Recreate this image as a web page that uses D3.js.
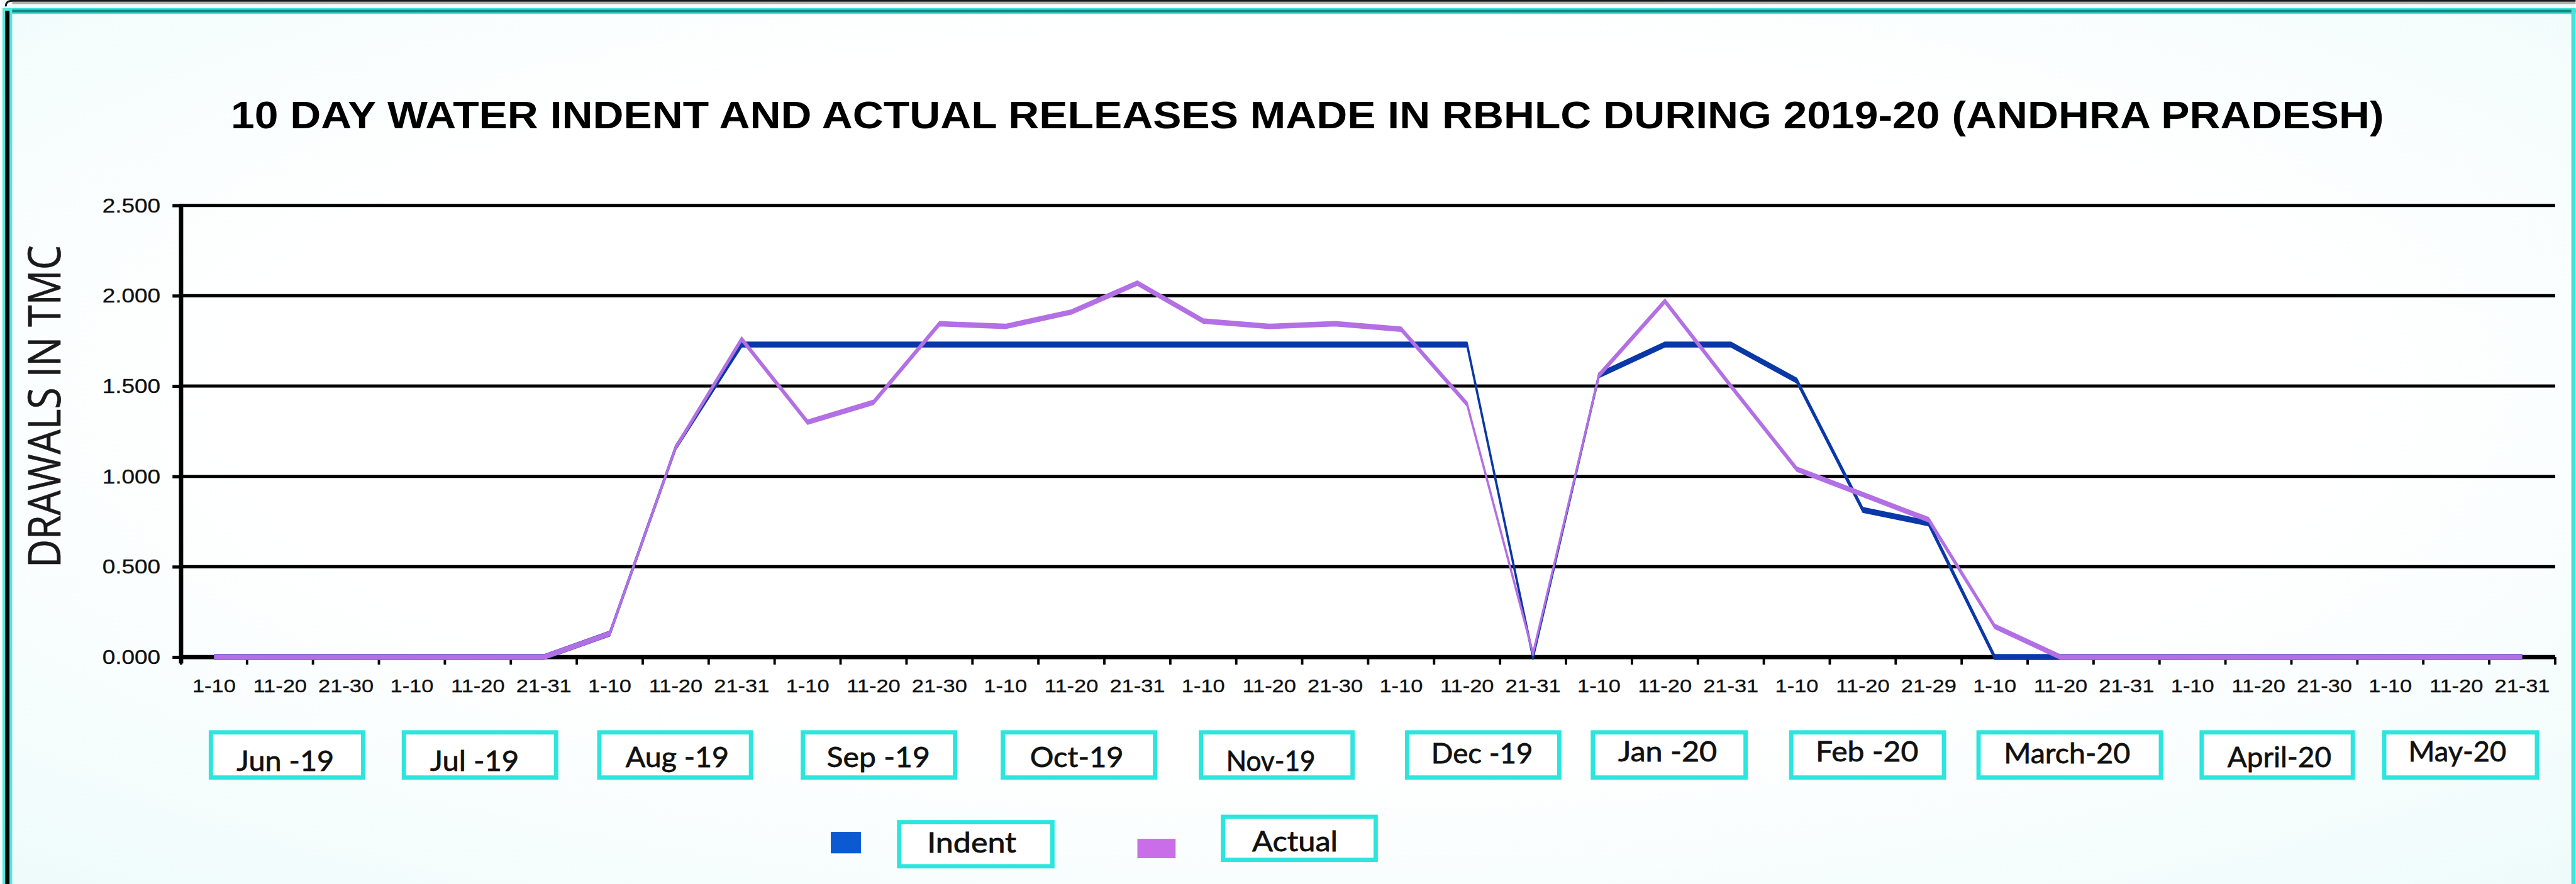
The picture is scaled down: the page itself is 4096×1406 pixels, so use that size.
<!DOCTYPE html>
<html>
<head>
<meta charset="utf-8">
<title>10 Day Water Indent and Actual Releases - RBHLC 2019-20</title>
<script src="https://cdn.jsdelivr.net/npm/d3@7"></script>
<style>
  html, body { margin: 0; padding: 0; background: #ffffff; overflow: hidden; }
  svg { display: block; }
</style>
</head>
<body>
<script>
// ---------------- data ----------------
const months = ["Jun -19", "Jul -19", "Aug -19", "Sep -19", "Oct-19", "Nov-19",
                "Dec -19", "Jan -20", "Feb -20", "March-20", "April-20", "May-20"];

const periods = [
  "1-10", "11-20", "21-30",   // Jun
  "1-10", "11-20", "21-31",   // Jul
  "1-10", "11-20", "21-31",   // Aug
  "1-10", "11-20", "21-30",   // Sep
  "1-10", "11-20", "21-31",   // Oct
  "1-10", "11-20", "21-30",   // Nov
  "1-10", "11-20", "21-31",   // Dec
  "1-10", "11-20", "21-31",   // Jan
  "1-10", "11-20", "21-29",   // Feb
  "1-10", "11-20", "21-31",   // Mar
  "1-10", "11-20", "21-30",   // Apr
  "1-10", "11-20", "21-31"    // May
];

// drawals in TMC per 10-day period
const indent = [
  0, 0, 0,
  0, 0, 0,
  0.13, 1.16, 1.73,
  1.73, 1.73, 1.73,
  1.73, 1.73, 1.73,
  1.73, 1.73, 1.73,
  1.73, 1.73, 0,
  1.56, 1.73, 1.73,
  1.53, 0.815, 0.74,
  0, 0, 0,
  0, 0, 0,
  0, 0, 0
];

const actual = [
  0, 0, 0,
  0, 0, 0,
  0.13, 1.16, 1.76,
  1.30, 1.41, 1.845,
  1.83, 1.91, 2.07,
  1.86, 1.83, 1.845,
  1.815, 1.40, 0.02,
  1.56, 1.97, 1.50,
  1.04, 0.90, 0.76,
  0.17, 0, 0,
  0, 0, 0,
  0, 0, 0
];

const yTicks = [0, 0.5, 1.0, 1.5, 2.0, 2.5];
const seriesNames = ["Indent", "Actual"];

// ---------------- layout ----------------
const W = 4788, H = 1644;
const plot = { left: 336, right: 4750, top: 382, bottom: 1222 };

const colors = {
  indentLine: "#0a38a8", actualLine: "#b36fe4",
  indentKey: "#0b5ad2", actualKey: "#c96de9",
  box: "#2ae6dc", frameTeal: "#14897f"
};

// month label boxes: offset of each box from its month's centre, box width,
// label baseline, label width and label offset inside the box
const boxNudge   = [13, 4, -1, 10, 14, 14, 30, 8, 9, 17, 35, 8];
const boxWidth   = [291, 291, 290, 291, 291, 290, 291, 292, 292, 347, 289, 292];
const labelBase  = [1433, 1433, 1426, 1426, 1426, 1433, 1419, 1416, 1416, 1420, 1426, 1416];
const labelLen   = [181, 165, 192, 192, 174, 166, 189, 184, 191, 235, 193, 182];
const labelNudge = [-3, -10, 4, -1, -4, -11, -2, -3, -1, -5, 4, -6];

const svg = d3.select("body").append("svg")
  .attr("width", 4096).attr("height", 1406)
  .attr("viewBox", `0 0 ${W} ${H}`);

// soft tinted backdrop
const defs = svg.append("defs");
const bg = defs.append("radialGradient").attr("id", "bgGrad")
  .attr("cx", "50%").attr("cy", "45%").attr("r", "75%");
bg.append("stop").attr("offset", "0.55").attr("stop-color", "#ffffff");
bg.append("stop").attr("offset", "1").attr("stop-color", "#eefbfb");
svg.append("rect").attr("x", 0).attr("y", 0).attr("width", W).attr("height", H)
  .attr("fill", "url(#bgGrad)");

// ---------------- scales ----------------
const x = d3.scaleBand().domain(d3.range(periods.length))
  .range([plot.left, plot.right]).paddingInner(0).paddingOuter(0);
const y = d3.scaleLinear().domain([0, 2.5]).range([plot.bottom, plot.top]);

// ---------------- title ----------------
svg.append("text")
  .attr("x", 2430).attr("y", 238)
  .attr("text-anchor", "middle")
  .attr("font-family", "'Liberation Sans', Arial, sans-serif")
  .attr("font-weight", "bold")
  .attr("font-size", 71)
  .attr("textLength", 4003).attr("lengthAdjust", "spacingAndGlyphs")
  .attr("fill", "#000")
  .text("10 DAY WATER INDENT AND ACTUAL RELEASES MADE IN RBHLC DURING 2019-20 (ANDHRA PRADESH)");

// ---------------- y axis title ----------------
svg.append("text")
  .attr("transform", "translate(111,756) rotate(-90)")
  .attr("text-anchor", "middle")
  .attr("font-family", "'Open Sans', 'Noto Sans', sans-serif")
  .attr("font-size", 84)
  .attr("textLength", 600).attr("lengthAdjust", "spacingAndGlyphs")
  .attr("fill", "#1a1a1a")
  .attr("stroke", "#1a1a1a").attr("stroke-width", 0.8)
  .text("DRAWALS IN TMC");

// ---------------- gridlines ----------------
svg.append("g").selectAll("line").data(yTicks.filter(d => d > 0)).join("line")
  .attr("x1", plot.left).attr("x2", plot.right)
  .attr("y1", d => y(d)).attr("y2", d => y(d))
  .attr("stroke", "#000").attr("stroke-width", 6);

// ---------------- y axis ----------------
const yAxis = svg.append("g")
  .attr("transform", `translate(${plot.left},0)`)
  .call(d3.axisLeft(y).tickValues(yTicks).tickFormat(d3.format(".3f")).tickSize(16));
yAxis.select(".domain").remove();
yAxis.selectAll(".tick line").attr("stroke", "#000").attr("stroke-width", 6);
yAxis.selectAll(".tick text")
  .attr("x", -32)
  .attr("dy", "0.34em")
  .attr("transform", "scale(1.2,1)")
  .attr("font-family", "'Liberation Sans', Arial, sans-serif")
  .attr("font-size", 36)
  .attr("fill", "#111")
  .attr("stroke", "#111").attr("stroke-width", 0.4);

svg.append("line")
  .attr("x1", plot.left).attr("x2", plot.left)
  .attr("y1", plot.top - 3).attr("y2", plot.bottom + 12)
  .attr("stroke", "#000").attr("stroke-width", 8);

// ---------------- x axis ----------------
svg.append("line")
  .attr("x1", plot.left).attr("x2", plot.right)
  .attr("y1", plot.bottom).attr("y2", plot.bottom)
  .attr("stroke", "#000").attr("stroke-width", 8);

// tick marks sit on the period boundaries
svg.append("g").selectAll("line")
  .data(d3.range(periods.length + 1)).join("line")
  .attr("x1", i => plot.left + i * x.step())
  .attr("x2", i => plot.left + i * x.step())
  .attr("y1", plot.bottom).attr("y2", plot.bottom + 14)
  .attr("stroke", "#000").attr("stroke-width", 4.5);

const xAxis = svg.append("g")
  .attr("transform", `translate(0,${plot.bottom})`)
  .call(d3.axisBottom(x).tickSize(0).tickFormat(i => periods[i]));
xAxis.select(".domain").remove();
xAxis.selectAll(".tick text")
  .attr("y", 65).attr("dy", 0)
  .attr("transform", "scale(1.15,1)")
  .attr("font-family", "'Liberation Sans', Arial, sans-serif")
  .attr("font-size", 35)
  .attr("fill", "#111")
  .attr("stroke", "#111").attr("stroke-width", 0.4);

// ---------------- series lines ----------------
// drawn in a vertically compressed frame and stretched back, so flat runs
// come out heavier than the steep ones
const K = 3;
const yK = d3.scaleLinear().domain([0, 2.5]).range([plot.bottom / K, plot.top / K]);
const line = d3.line()
  .x((d, i) => x(i) + x.bandwidth() / 2)
  .y(d => yK(d));

const lines = svg.append("g").attr("transform", `scale(1,${K})`);
lines.append("path").datum(indent)
  .attr("d", line)
  .attr("fill", "none")
  .attr("stroke", colors.indentLine)
  .attr("stroke-width", 3.7)
  .attr("stroke-linejoin", "round")
  .attr("stroke-linecap", "butt");
lines.append("path").datum(actual)
  .attr("d", line)
  .attr("fill", "none")
  .attr("stroke", colors.actualLine)
  .attr("stroke-width", 3.4)
  .attr("stroke-linejoin", "round")
  .attr("stroke-linecap", "butt");

// ---------------- month boxes ----------------
const monthG = svg.append("g").selectAll("g").data(months).join("g");
monthG.each(function (label, m) {
  const g = d3.select(this);
  const centre = x(3 * m) + 1.5 * x.step() + boxNudge[m];
  const w = boxWidth[m];
  g.append("rect")
    .attr("x", centre - w / 2 + 4).attr("y", 1362)
    .attr("width", w - 8).attr("height", 84)
    .attr("fill", "#ffffff")
    .attr("stroke", colors.box).attr("stroke-width", 8);
  g.append("text")
    .attr("x", centre + labelNudge[m]).attr("y", labelBase[m])
    .attr("text-anchor", "middle")
    .attr("font-family", "Lato, 'Noto Sans', sans-serif")
    .attr("font-size", 53)
    .attr("textLength", labelLen[m]).attr("lengthAdjust", "spacingAndGlyphs")
    .attr("fill", "#111")
    .attr("stroke", "#111").attr("stroke-width", 0.9)
    .text(label);
});

// ---------------- legend ----------------
const legendLayout = [
  { key: [1544, 1547, 56, 40], box: [1671, 1529, 285, 82], tx: 1806, ty: 1585, len: 166, color: colors.indentKey },
  { key: [2114, 1560, 71, 36], box: [2273, 1519, 284, 80], tx: 2407, ty: 1583, len: 159, color: colors.actualKey }
];
const legend = svg.append("g").selectAll("g").data(seriesNames).join("g");
legend.each(function (name, i) {
  const L = legendLayout[i];
  const g = d3.select(this);
  g.append("rect")
    .attr("x", L.key[0]).attr("y", L.key[1])
    .attr("width", L.key[2]).attr("height", L.key[3])
    .attr("fill", L.color);
  g.append("rect")
    .attr("x", L.box[0]).attr("y", L.box[1])
    .attr("width", L.box[2]).attr("height", L.box[3])
    .attr("fill", "#ffffff")
    .attr("stroke", colors.box).attr("stroke-width", 8);
  g.append("text")
    .attr("x", L.tx).attr("y", L.ty)
    .attr("text-anchor", "middle")
    .attr("font-family", "Lato, 'Noto Sans', sans-serif")
    .attr("font-size", 51)
    .attr("textLength", L.len).attr("lengthAdjust", "spacingAndGlyphs")
    .attr("fill", "#111")
    .attr("stroke", "#111").attr("stroke-width", 0.9)
    .text(name);
});

// ---------------- frame ----------------
const frame = svg.append("g");
// outer dark edge along the top with a rounded corner at the left
frame.append("path")
  .attr("d", `M10,12 Q10,1.5 22,1.5 L${W},1.5`)
  .attr("fill", "none").attr("stroke", "#1a1a1a").attr("stroke-width", 3.5);
frame.append("rect").attr("x", 22).attr("y", 3.5).attr("width", W - 22).attr("height", 4)
  .attr("fill", "#9a9a9a").attr("opacity", 0.8);
// teal rule under it
frame.append("rect").attr("x", 4).attr("y", 15).attr("width", W - 4).attr("height", 11)
  .attr("fill", "#3fe3da");
frame.append("rect").attr("x", 4).attr("y", 18).attr("width", W - 4).attr("height", 5)
  .attr("fill", colors.frameTeal);
// left edge: dark bar with cyan glow
frame.append("rect").attr("x", 4).attr("y", 15).attr("width", 18).attr("height", H - 15)
  .attr("fill", "#4fe8df");
frame.append("rect").attr("x", 9).attr("y", 20).attr("width", 8).attr("height", H - 20)
  .attr("fill", "#050505");
// right edge
frame.append("rect").attr("x", W - 8).attr("y", 15).attr("width", 8).attr("height", H - 15)
  .attr("fill", "#3fe3da");
</script>
</body>
</html>
